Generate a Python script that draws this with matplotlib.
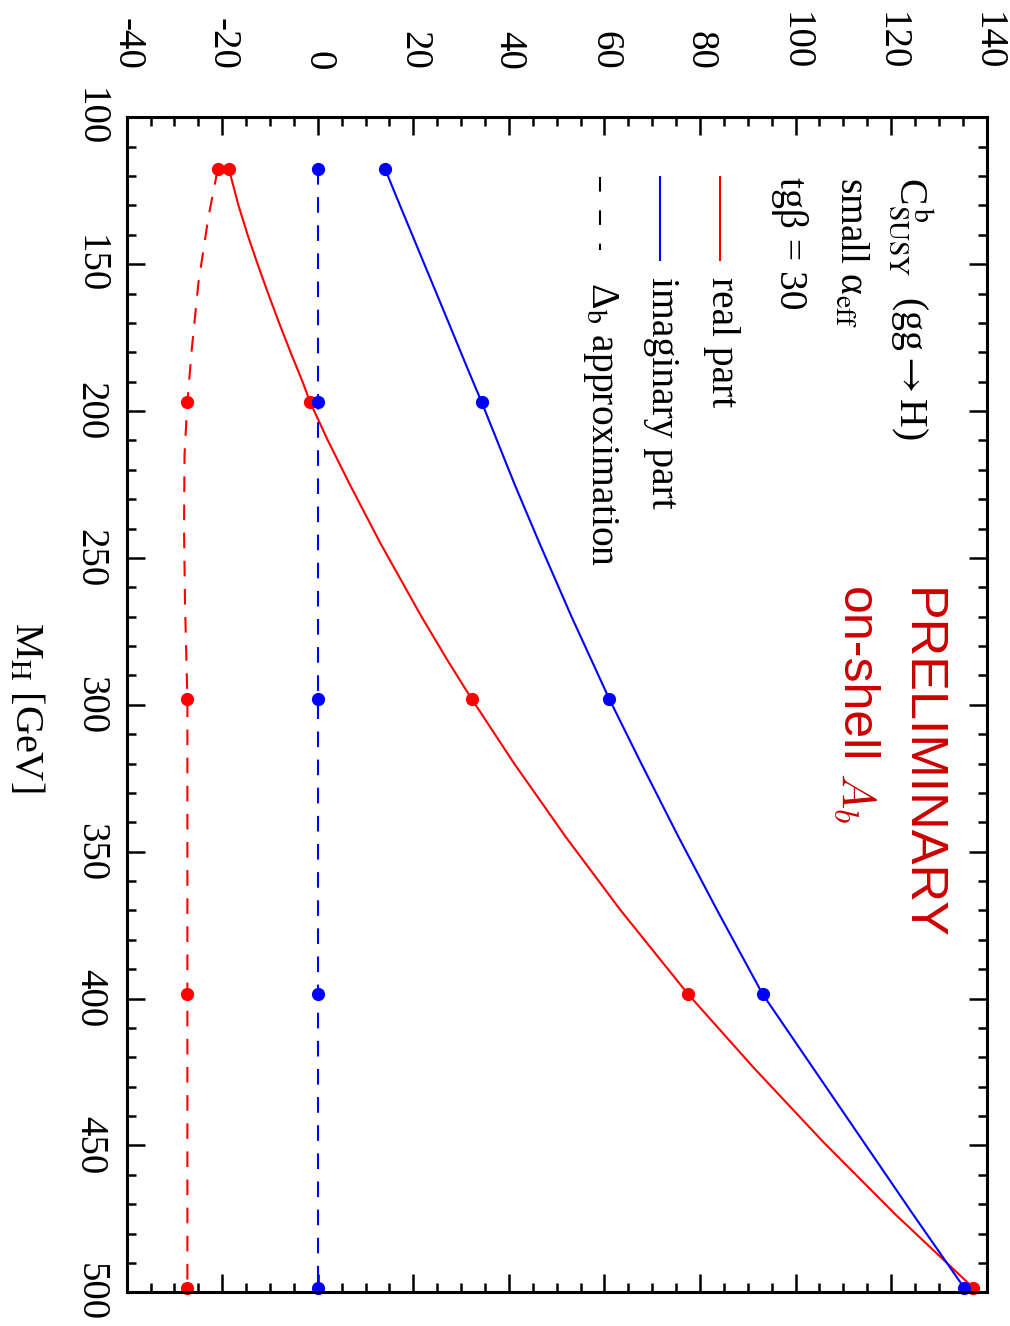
import matplotlib
matplotlib.use("Agg")
import matplotlib.pyplot as plt
from matplotlib.lines import Line2D
from matplotlib.ticker import MultipleLocator

plt.rcParams['font.family'] = ['Liberation Serif', 'DejaVu Serif']
plt.rcParams['mathtext.fontset'] = 'stix'
plt.rcParams['axes.unicode_minus'] = False

# Higgs mass where the full calculation was evaluated (dots)
mh_pts = [117.7, 197.0, 298.0, 398.5, 498.5]
real_pts = [-18.6, -1.6, 32.2, 77.5, 137.2]
imag_pts = [14.1, 34.3, 61.0, 93.1, 135.3]
dab_real_pts = [-20.95, -27.3, -27.3, -27.3, -27.3]
dab_imag_pts = [0.0, 0.0, 0.0, 0.0, 0.0]

# curves sampled along M_H
mh_real = [117.7, 130, 140, 150, 160, 170, 180, 190, 197, 210, 225, 245, 270,
           285, 298, 320, 345, 370, 398.5, 423.5, 448.5, 473.5, 498.5]
real_curve = [-18.6, -16.6, -14.7, -12.6, -10.4, -8.1, -5.7, -3.2, -1.6, 2.1,
              6.7, 13.1, 21.7, 27.2, 32.2, 41.1, 51.9, 63.4, 77.5, 91.2,
              105.6, 120.9, 137.2]
mh_imag = [117.7, 130, 150, 170, 185, 197, 225, 245, 270, 298, 320, 345, 370,
           398.5, 423.5, 448.5, 473.5, 498.5]
imag_curve = [14.1, 17.2, 22.3, 27.4, 31.2, 34.3, 41.2, 46.4, 53.1, 61.0,
              67.7, 75.5, 83.6, 93.1, 103.6, 114.1, 124.6, 135.3]
mh_dab = [117.7, 134, 156.5, 179.3, 197, 215, 240, 265, 298, 398.5, 498.5]
dab_real_curve = [-20.95, -22.9, -25.0, -26.4, -27.3, -27.9, -28.0, -27.8,
                  -27.3, -27.3, -27.3]
dab_imag_curve = [0.0] * len(mh_dab)

xticks = [-40, -20, 0, 20, 40, 60, 80, 100, 120, 140]
yticks = [100, 150, 200, 250, 300, 350, 400, 450, 500]

W, H = 1010, 1326
fig = plt.figure(figsize=(W / 100, H / 100), dpi=100)
ax = fig.add_axes([126.7 / W, 1 - 1292.3 / H, 860 / W, 1175 / H])

RED = '#ff0000'
BLUE = '#0000ff'
dash = (0, (7.5, 6))
lw = 1.5

ax.plot(real_curve, mh_real, color=RED, lw=lw)
ax.plot(imag_curve, mh_imag, color=BLUE, lw=lw)
ax.plot(dab_real_curve, mh_dab, color=RED, lw=lw, linestyle=dash)
ax.plot(dab_imag_curve, mh_dab, color=BLUE, lw=lw, linestyle=dash)

ms = 8.5
ax.plot(real_pts, mh_pts, 'o', color=RED, ms=ms, clip_on=False)
ax.plot(dab_real_pts, mh_pts, 'o', color=RED, ms=ms, clip_on=False)
ax.plot(dab_imag_pts, mh_pts, 'o', color=BLUE, ms=ms, clip_on=False)
ax.plot(imag_pts, mh_pts, 'o', color=BLUE, ms=ms, clip_on=False)

ax.set_xlim(-40, 140)
ax.set_ylim(500, 100)
ax.set_xticks(xticks)
ax.set_yticks(yticks)
ax.xaxis.set_minor_locator(MultipleLocator(5))
ax.yaxis.set_minor_locator(MultipleLocator(10))

for s in ax.spines.values():
    s.set_linewidth(2.2)
ax.tick_params(which='both', direction='in', top=True, bottom=True,
               left=True, right=True, width=1.8)
ax.tick_params(which='major', length=13)
ax.tick_params(which='minor', length=6.5)
ax.tick_params(axis='x', labeltop=True, labelbottom=False, pad=34,
               labelsize=28)
ax.tick_params(axis='y', pad=13, labelsize=28)
for t in ax.get_xticklabels():
    t.set_rotation(-90)
    t.set_ha('center')
    t.set_va('bottom')
for t in ax.get_yticklabels():
    t.set_rotation(-90)
    t.set_ha('right')
    t.set_va('center')


def rtext(px, py, s, size=28.5, **kw):
    return fig.text(px / W, 1 - py / H, s, rotation=-90,
                    rotation_mode='anchor', ha='left', va='baseline',
                    fontsize=size, **kw)


rtext(15, 622, r'M$_{\mathrm{H}}$ [GeV]', size=29)

rtext(900, 177, r'C$^{\,\mathrm{b}}_{\mathrm{SUSY}}$  (gg$\rightarrow$H)')
rtext(840, 177, r'small α$_{\mathrm{eff}}$')
rtext(780, 177, 'tgβ = 30')
rtext(712, 277, 'real part')
rtext(652, 277, 'imaginary part')
rtext(592, 282, r'Δ$_{\mathrm{b}}$ approximation')

fig.add_artist(Line2D([720 / W, 720 / W], [1 - 177 / H, 1 - 260 / H],
                      color=RED, lw=1.5))
fig.add_artist(Line2D([660 / W, 660 / W], [1 - 177 / H, 1 - 260 / H],
                      color=BLUE, lw=1.5))
fig.add_artist(Line2D([600 / W, 600 / W], [1 - 177 / H, 1 - 250 / H],
                      color='black', lw=1.5, linestyle=(0, (7, 9))))

DARKRED = '#cc0000'
rtext(907, 588, 'PRELIMINARY', size=37.5, color=DARKRED,
      family='Liberation Sans')
rtext(842, 587, 'on-shell', size=36, color=DARKRED, family='Liberation Sans')
rtext(842, 772, r'$A_b$', size=34, color=DARKRED, math_fontfamily='cm')

fig.savefig('out.png', dpi=100)
